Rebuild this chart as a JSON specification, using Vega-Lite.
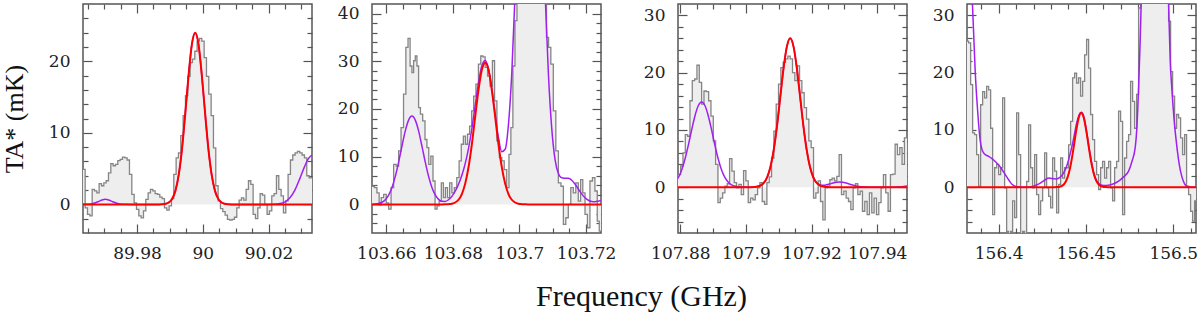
{
"$schema": "https://vega.github.io/schema/vega-lite/v6.json",
"padding": {"left": 0, "right": 2, "top": 2, "bottom": 2},
"spacing": 25,
"title": {"text": "Frequency (GHz)", "orient": "bottom", "anchor": "middle", "font": "Liberation Serif", "fontSize": 30, "fontWeight": "normal", "color": "#111", "offset": 20, "dx": 42},
"config": {
 "view": {"stroke": "#555", "strokeWidth": 1.5},
 "axis": {"domain": false, "grid": false, "tickColor": "#555", "tickWidth": 1.2, "labelFont": "DejaVu Serif", "labelFontSize": 17, "labelColor": "#222", "labelOverlap": false, "labelFlush": false, "titleFont": "Liberation Serif", "titleFontSize": 26, "titleFontWeight": "normal", "titleColor": "#111"}
},
"datasets": {
 "s1": [{"f":89.9630,"t":4.9},{"f":89.96390,"t":4.9},{"f":89.96461,"t":-0.5},{"f":89.96532,"t":-1.4},{"f":89.96603,"t":-1.6},{"f":89.96674,"t":2.1},{"f":89.96745,"t":1.9},{"f":89.96815,"t":1.6},{"f":89.96886,"t":2.9},{"f":89.96957,"t":2.6},{"f":89.97028,"t":3.0},{"f":89.97099,"t":3.3},{"f":89.97170,"t":4.4},{"f":89.97241,"t":5.7},{"f":89.97312,"t":5.4},{"f":89.97383,"t":5.6},{"f":89.97454,"t":6.1},{"f":89.97524,"t":6.3},{"f":89.97595,"t":6.6},{"f":89.97666,"t":6.5},{"f":89.97737,"t":6.2},{"f":89.97808,"t":4.2},{"f":89.97879,"t":1.4},{"f":89.97950,"t":0.2},{"f":89.98021,"t":-0.7},{"f":89.98092,"t":-1.6},{"f":89.98163,"t":-1.9},{"f":89.98233,"t":-0.9},{"f":89.98304,"t":0.7},{"f":89.98375,"t":1.6},{"f":89.98446,"t":2.1},{"f":89.98517,"t":1.9},{"f":89.98588,"t":1.5},{"f":89.98659,"t":1.4},{"f":89.98730,"t":1.0},{"f":89.98801,"t":0.8},{"f":89.98872,"t":-0.5},{"f":89.98942,"t":-0.8},{"f":89.99013,"t":-0.2},{"f":89.99084,"t":0.8},{"f":89.99155,"t":4.2},{"f":89.99226,"t":6.5},{"f":89.99297,"t":7.2},{"f":89.99368,"t":9.6},{"f":89.99439,"t":12.4},{"f":89.99510,"t":15.2},{"f":89.99581,"t":17.9},{"f":89.99651,"t":19.8},{"f":89.99722,"t":20.3},{"f":89.99793,"t":21.4},{"f":89.99864,"t":22.8},{"f":89.99935,"t":23.2},{"f":90.00006,"t":22.8},{"f":90.00077,"t":20.5},{"f":90.00148,"t":17.9},{"f":90.00219,"t":15.4},{"f":90.00290,"t":12.4},{"f":90.00360,"t":7.9},{"f":90.00431,"t":2.6},{"f":90.00502,"t":0.5},{"f":90.00573,"t":-0.6},{"f":90.00644,"t":-1.0},{"f":90.00715,"t":-1.5},{"f":90.00786,"t":-2.1},{"f":90.00857,"t":-2.2},{"f":90.00928,"t":-2.1},{"f":90.00999,"t":-1.8},{"f":90.01069,"t":-0.5},{"f":90.01140,"t":0.6},{"f":90.01211,"t":0.9},{"f":90.01282,"t":0.6},{"f":90.01353,"t":2.1},{"f":90.01424,"t":3.3},{"f":90.01495,"t":2.8},{"f":90.01566,"t":-1.4},{"f":90.01637,"t":-2.0},{"f":90.01708,"t":-0.5},{"f":90.01778,"t":1.5},{"f":90.01849,"t":1.3},{"f":90.01920,"t":0.0},{"f":90.01991,"t":-1.4},{"f":90.02062,"t":-0.9},{"f":90.02133,"t":1.2},{"f":90.02204,"t":1.5},{"f":90.02275,"t":4.0},{"f":90.02346,"t":2.1},{"f":90.02417,"t":1.2},{"f":90.02487,"t":-1.2},{"f":90.02558,"t":0.5},{"f":90.02629,"t":4.2},{"f":90.02700,"t":6.2},{"f":90.02771,"t":6.9},{"f":90.02842,"t":7.2},{"f":90.02913,"t":7.4},{"f":90.02984,"t":7.2},{"f":90.03055,"t":6.9},{"f":90.03126,"t":6.5},{"f":90.03196,"t":4.0},{"f":90.03267,"t":3.7},{"f":90.0340,"t":3.7}],
 "r1": [{"f":89.9630,"t":0},{"f":89.9857,"t":0},{"f":89.9867,"t":0.0},{"f":89.9877,"t":0.02},{"f":89.9887,"t":0.08},{"f":89.9897,"t":0.27},{"f":89.9907,"t":0.77},{"f":89.9917,"t":1.92},{"f":89.9927,"t":4.16},{"f":89.9937,"t":7.8},{"f":89.9947,"t":12.8},{"f":89.9957,"t":18.1},{"f":89.9967,"t":22.4},{"f":89.9977,"t":24.0},{"f":89.9987,"t":22.4},{"f":89.9997,"t":18.1},{"f":90.0007,"t":12.8},{"f":90.0017,"t":7.8},{"f":90.0027,"t":4.16},{"f":90.0037,"t":1.92},{"f":90.0047,"t":0.77},{"f":90.0057,"t":0.27},{"f":90.0067,"t":0.08},{"f":90.0077,"t":0.02},{"f":90.0087,"t":0.0},{"f":90.0340,"t":0}],
 "p1": [{"f":89.9630,"t":0},{"f":89.9644,"t":0.01},{"f":89.9654,"t":0.03},{"f":89.9664,"t":0.09},{"f":89.9674,"t":0.23},{"f":89.9684,"t":0.42},{"f":89.9694,"t":0.62},{"f":89.9704,"t":0.7},{"f":89.9714,"t":0.62},{"f":89.9724,"t":0.42},{"f":89.9734,"t":0.23},{"f":89.9744,"t":0.09},{"f":89.9754,"t":0.03},{"f":89.9764,"t":0.01},{"f":89.9784,"t":0},{"f":89.9867,"t":0.0},{"f":89.9877,"t":0.02},{"f":89.9887,"t":0.08},{"f":89.9897,"t":0.27},{"f":89.9907,"t":0.77},{"f":89.9917,"t":1.92},{"f":89.9927,"t":4.16},{"f":89.9937,"t":7.8},{"f":89.9947,"t":12.8},{"f":89.9957,"t":18.1},{"f":89.9967,"t":22.4},{"f":89.9977,"t":24.0},{"f":89.9987,"t":22.4},{"f":89.9997,"t":18.1},{"f":90.0007,"t":12.8},{"f":90.0017,"t":7.8},{"f":90.0027,"t":4.16},{"f":90.0037,"t":1.92},{"f":90.0047,"t":0.77},{"f":90.0057,"t":0.27},{"f":90.0067,"t":0.08},{"f":90.0077,"t":0.02},{"f":90.0087,"t":0.0},{"f":90.0150,"t":0},{"f":90.0195,"t":0},{"f":90.0215,"t":0.02},{"f":90.0235,"t":0.12},{"f":90.0250,"t":0.36},{"f":90.0265,"t":0.93},{"f":90.0280,"t":2.0},{"f":90.0295,"t":3.6},{"f":90.0310,"t":5.35},{"f":90.0322,"t":6.44},{"f":90.0332,"t":6.87},{"f":90.0340,"t":6.9}],
 "s2": [{"f":103.6550,"t":3.8},{"f":103.65605,"t":3.8},{"f":103.6568,"t":3.5},{"f":103.65755,"t":2.4},{"f":103.65815,"t":-0.1},{"f":103.6588,"t":1.4},{"f":103.6596,"t":2.1},{"f":103.66035,"t":0.3},{"f":103.66105,"t":-1.0},{"f":103.6618,"t":3.5},{"f":103.6626,"t":8.4},{"f":103.66335,"t":8.0},{"f":103.66405,"t":11.2},{"f":103.6648,"t":16.1},{"f":103.66555,"t":23.1},{"f":103.6662,"t":32.9},{"f":103.66685,"t":34.8},{"f":103.66745,"t":29.0},{"f":103.66795,"t":27.6},{"f":103.66845,"t":30.1},{"f":103.66895,"t":31.1},{"f":103.66945,"t":29.0},{"f":103.66995,"t":20.3},{"f":103.67055,"t":18.9},{"f":103.6713,"t":17.5},{"f":103.67195,"t":13.6},{"f":103.67245,"t":11.9},{"f":103.67305,"t":8.4},{"f":103.6737,"t":10.1},{"f":103.67435,"t":4.9},{"f":103.67495,"t":-1.0},{"f":103.67555,"t":-0.3},{"f":103.6762,"t":0.7},{"f":103.67685,"t":4.5},{"f":103.67745,"t":1.4},{"f":103.67805,"t":3.5},{"f":103.6787,"t":1.4},{"f":103.67935,"t":4.5},{"f":103.68005,"t":2.4},{"f":103.6808,"t":3.5},{"f":103.68155,"t":5.6},{"f":103.6822,"t":9.1},{"f":103.68285,"t":12.6},{"f":103.68345,"t":14.3},{"f":103.68405,"t":12.6},{"f":103.6847,"t":14.7},{"f":103.68535,"t":16.4},{"f":103.68595,"t":19.6},{"f":103.68655,"t":22.7},{"f":103.6873,"t":25.2},{"f":103.68805,"t":29.4},{"f":103.6887,"t":31.1},{"f":103.68935,"t":30.9},{"f":103.69005,"t":28.7},{"f":103.6908,"t":26.9},{"f":103.69155,"t":24.8},{"f":103.6922,"t":30.1},{"f":103.69285,"t":21.7},{"f":103.6936,"t":13.3},{"f":103.69435,"t":9.8},{"f":103.69505,"t":9.1},{"f":103.6958,"t":7.3},{"f":103.69655,"t":3.5},{"f":103.69715,"t":10.5},{"f":103.6977,"t":16.1},{"f":103.69835,"t":29.0},{"f":103.69895,"t":38.5},{"f":103.69955,"t":48},{"f":103.7003,"t":55},{"f":103.70105,"t":62},{"f":103.7018,"t":66},{"f":103.70255,"t":70},{"f":103.7033,"t":72},{"f":103.70405,"t":70},{"f":103.7048,"t":66},{"f":103.70555,"t":60},{"f":103.7063,"t":54},{"f":103.70705,"t":48},{"f":103.7078,"t":43},{"f":103.70845,"t":35.0},{"f":103.70905,"t":32.9},{"f":103.7098,"t":29.4},{"f":103.71055,"t":19.6},{"f":103.7113,"t":11.2},{"f":103.7121,"t":4.5},{"f":103.71285,"t":3.8},{"f":103.71355,"t":-4.2},{"f":103.7143,"t":-2.8},{"f":103.71505,"t":0.0},{"f":103.7158,"t":3.5},{"f":103.71655,"t":2.4},{"f":103.7173,"t":4.5},{"f":103.71805,"t":0.7},{"f":103.7187,"t":5.2},{"f":103.71935,"t":2.4},{"f":103.72005,"t":-2.1},{"f":103.7208,"t":-4.9},{"f":103.72155,"t":4.9},{"f":103.7223,"t":5.6},{"f":103.72305,"t":2.8},{"f":103.7237,"t":-3.5},{"f":103.72425,"t":-5.6},{"f":103.7250,"t":-5.6}],
 "r2": [{"f":103.6550,"t":0},{"f":103.6767,"t":0},{"f":103.6777,"t":0.01},{"f":103.6787,"t":0.05},{"f":103.6797,"t":0.14},{"f":103.6807,"t":0.39},{"f":103.6817,"t":0.97},{"f":103.6827,"t":2.17},{"f":103.6837,"t":4.35},{"f":103.6847,"t":7.8},{"f":103.6857,"t":12.6},{"f":103.6867,"t":18.4},{"f":103.6877,"t":24.0},{"f":103.6887,"t":28.2},{"f":103.6897,"t":29.7},{"f":103.6907,"t":28.2},{"f":103.6917,"t":24.0},{"f":103.6927,"t":18.4},{"f":103.6937,"t":12.6},{"f":103.6947,"t":7.8},{"f":103.6957,"t":4.35},{"f":103.6967,"t":2.17},{"f":103.6977,"t":0.97},{"f":103.6987,"t":0.39},{"f":103.6997,"t":0.14},{"f":103.7007,"t":0.05},{"f":103.7017,"t":0.01},{"f":103.7027,"t":0},{"f":103.7250,"t":0}],
 "p2": [{"f":103.6550,"t":0.01},{"f":103.6557,"t":0.02},{"f":103.6567,"t":0.07},{"f":103.6577,"t":0.19},{"f":103.6587,"t":0.45},{"f":103.6597,"t":0.98},{"f":103.6607,"t":1.95},{"f":103.6617,"t":3.54},{"f":103.6627,"t":5.87},{"f":103.6637,"t":8.87},{"f":103.6647,"t":12.2},{"f":103.6657,"t":15.4},{"f":103.6667,"t":17.67},{"f":103.6677,"t":18.5},{"f":103.6687,"t":17.67},{"f":103.6697,"t":15.4},{"f":103.6707,"t":12.2},{"f":103.6717,"t":8.87},{"f":103.6727,"t":5.87},{"f":103.6737,"t":3.54},{"f":103.6747,"t":1.97},{"f":103.6757,"t":1.05},{"f":103.6767,"t":0.63},{"f":103.6777,"t":0.62},{"f":103.6787,"t":0.97},{"f":103.6797,"t":1.67},{"f":103.6807,"t":2.76},{"f":103.6817,"t":4.22},{"f":103.6827,"t":6.11},{"f":103.6837,"t":8.55},{"f":103.6847,"t":11.74},{"f":103.6857,"t":15.85},{"f":103.6867,"t":20.77},{"f":103.6877,"t":25.51},{"f":103.6887,"t":29.05},{"f":103.6897,"t":30.14},{"f":103.6907,"t":28.43},{"f":103.6917,"t":24.23},{"f":103.6927,"t":18.9},{"f":103.6937,"t":13.92},{"f":103.6947,"t":11.05},{"f":103.6957,"t":11.55},{"f":103.6967,"t":16.77},{"f":103.6977,"t":27.57},{"f":103.6987,"t":44.3},{"f":103.6997,"t":65.6},{"f":103.7007,"t":88.5},{"f":103.7017,"t":108},{"f":103.7027,"t":119.5},{"f":103.7037,"t":119.5},{"f":103.7047,"t":108},{"f":103.7057,"t":88.5},{"f":103.7067,"t":65.65},{"f":103.7077,"t":44.25},{"f":103.7087,"t":27.32},{"f":103.7097,"t":15.92},{"f":103.7107,"t":9.38},{"f":103.7117,"t":6.46},{"f":103.7127,"t":5.56},{"f":103.7137,"t":5.49},{"f":103.7147,"t":5.46},{"f":103.7157,"t":5.06},{"f":103.7167,"t":4.24},{"f":103.7177,"t":3.22},{"f":103.7187,"t":2.21},{"f":103.7197,"t":1.39},{"f":103.7207,"t":0.86},{"f":103.7217,"t":0.6},{"f":103.7227,"t":0.56},{"f":103.7237,"t":0.67},{"f":103.7247,"t":0.82},{"f":103.7250,"t":0.85}],
 "s3": [{"f":107.8790,"t":2.2},{"f":107.87975,"t":2.2},{"f":107.88046,"t":3.7},{"f":107.88117,"t":6.0},{"f":107.88188,"t":9.2},{"f":107.88259,"t":8.9},{"f":107.88330,"t":15.1},{"f":107.88401,"t":18.6},{"f":107.88472,"t":18.9},{"f":107.88543,"t":21.3},{"f":107.88614,"t":18.3},{"f":107.88686,"t":14.5},{"f":107.88757,"t":16.8},{"f":107.88828,"t":16.7},{"f":107.88899,"t":15.1},{"f":107.88970,"t":12.4},{"f":107.89041,"t":8.1},{"f":107.89112,"t":4.0},{"f":107.89183,"t":-2.7},{"f":107.89254,"t":-1.9},{"f":107.89325,"t":-1.0},{"f":107.89396,"t":0.2},{"f":107.89467,"t":0.6},{"f":107.89538,"t":5.0},{"f":107.89609,"t":2.8},{"f":107.89680,"t":0.8},{"f":107.89751,"t":-0.1},{"f":107.89822,"t":0.5},{"f":107.89893,"t":-1.3},{"f":107.89964,"t":2.9},{"f":107.90035,"t":1.1},{"f":107.90107,"t":-2.7},{"f":107.90178,"t":-1.9},{"f":107.90249,"t":-2.2},{"f":107.90320,"t":-1.3},{"f":107.90391,"t":-0.1},{"f":107.90462,"t":0.8},{"f":107.90533,"t":-2.5},{"f":107.90604,"t":-3.0},{"f":107.90675,"t":0.8},{"f":107.90746,"t":1.8},{"f":107.90817,"t":5.1},{"f":107.90888,"t":9.8},{"f":107.90959,"t":14.5},{"f":107.91030,"t":18.0},{"f":107.91101,"t":20.9},{"f":107.91172,"t":21.8},{"f":107.91243,"t":22.4},{"f":107.91314,"t":22.9},{"f":107.91385,"t":22.4},{"f":107.91456,"t":20.0},{"f":107.91528,"t":18.6},{"f":107.91599,"t":21.2},{"f":107.91670,"t":18.6},{"f":107.91741,"t":16.5},{"f":107.91812,"t":13.9},{"f":107.91883,"t":11.9},{"f":107.91954,"t":8.1},{"f":107.92025,"t":6.9},{"f":107.92096,"t":-1.9},{"f":107.92167,"t":-1.0},{"f":107.92238,"t":1.1},{"f":107.92309,"t":-2.5},{"f":107.92380,"t":-5.7},{"f":107.92451,"t":-0.1},{"f":107.92522,"t":0.2},{"f":107.92593,"t":1.3},{"f":107.92664,"t":1.6},{"f":107.92735,"t":1.1},{"f":107.92806,"t":1.9},{"f":107.92877,"t":5.7},{"f":107.92949,"t":-1.3},{"f":107.93020,"t":-0.7},{"f":107.93091,"t":-1.9},{"f":107.93162,"t":-2.5},{"f":107.93233,"t":-3.9},{"f":107.93304,"t":-0.1},{"f":107.93375,"t":0.6},{"f":107.93446,"t":-1.3},{"f":107.93517,"t":-0.7},{"f":107.93588,"t":-4.2},{"f":107.93659,"t":-2.5},{"f":107.93730,"t":-4.8},{"f":107.93801,"t":-1.0},{"f":107.93872,"t":-4.5},{"f":107.93943,"t":-1.9},{"f":107.94014,"t":-4.8},{"f":107.94085,"t":-2.7},{"f":107.94156,"t":-0.1},{"f":107.94227,"t":2.2},{"f":107.94298,"t":-1.0},{"f":107.94370,"t":-4.2},{"f":107.94441,"t":2.2},{"f":107.94512,"t":2.3},{"f":107.94583,"t":7.5},{"f":107.94654,"t":5.7},{"f":107.94725,"t":6.9},{"f":107.94796,"t":4.0},{"f":107.94867,"t":8.6},{"f":107.9495,"t":8.6}],
 "r3": [{"f":107.8790,"t":0},{"f":107.9005,"t":0},{"f":107.9015,"t":0.01},{"f":107.9025,"t":0.04},{"f":107.9035,"t":0.11},{"f":107.9045,"t":0.31},{"f":107.9055,"t":0.78},{"f":107.9065,"t":1.77},{"f":107.9075,"t":3.6},{"f":107.9085,"t":6.6},{"f":107.9095,"t":10.8},{"f":107.9105,"t":15.9},{"f":107.9115,"t":20.9},{"f":107.9125,"t":24.6},{"f":107.9135,"t":26.0},{"f":107.9145,"t":24.6},{"f":107.9155,"t":20.9},{"f":107.9165,"t":15.9},{"f":107.9175,"t":10.8},{"f":107.9185,"t":6.6},{"f":107.9195,"t":3.6},{"f":107.9205,"t":1.77},{"f":107.9215,"t":0.78},{"f":107.9225,"t":0.31},{"f":107.9235,"t":0.11},{"f":107.9245,"t":0.04},{"f":107.9255,"t":0.01},{"f":107.9265,"t":0},{"f":107.9495,"t":0}],
 "p3": [{"f":107.8790,"t":1.31},{"f":107.8795,"t":1.79},{"f":107.8805,"t":3.14},{"f":107.8815,"t":5.05},{"f":107.8825,"t":7.46},{"f":107.8835,"t":10.1},{"f":107.8845,"t":12.53},{"f":107.8855,"t":14.27},{"f":107.8865,"t":14.9},{"f":107.8875,"t":14.27},{"f":107.8885,"t":12.53},{"f":107.8895,"t":10.1},{"f":107.8905,"t":7.46},{"f":107.8915,"t":5.05},{"f":107.8925,"t":3.14},{"f":107.8935,"t":1.79},{"f":107.8945,"t":0.94},{"f":107.8955,"t":0.45},{"f":107.8965,"t":0.2},{"f":107.8975,"t":0.08},{"f":107.8985,"t":0.03},{"f":107.8995,"t":0},{"f":107.9005,"t":0},{"f":107.9015,"t":0.01},{"f":107.9025,"t":0.04},{"f":107.9035,"t":0.11},{"f":107.9045,"t":0.31},{"f":107.9055,"t":0.78},{"f":107.9065,"t":1.77},{"f":107.9075,"t":3.6},{"f":107.9085,"t":6.6},{"f":107.9095,"t":10.8},{"f":107.9105,"t":15.9},{"f":107.9115,"t":20.9},{"f":107.9125,"t":24.6},{"f":107.9135,"t":26.0},{"f":107.9145,"t":24.6},{"f":107.9155,"t":20.9},{"f":107.9165,"t":15.9},{"f":107.9175,"t":10.8},{"f":107.9185,"t":6.6},{"f":107.9195,"t":3.61},{"f":107.9205,"t":1.8},{"f":107.9215,"t":0.84},{"f":107.9225,"t":0.43},{"f":107.9235,"t":0.33},{"f":107.9245,"t":0.41},{"f":107.9255,"t":0.56},{"f":107.9265,"t":0.72},{"f":107.9275,"t":0.85},{"f":107.9285,"t":0.9},{"f":107.9295,"t":0.85},{"f":107.9305,"t":0.72},{"f":107.9315,"t":0.55},{"f":107.9325,"t":0.37},{"f":107.9335,"t":0.22},{"f":107.9345,"t":0.12},{"f":107.9355,"t":0.06},{"f":107.9365,"t":0.03},{"f":107.9375,"t":0},{"f":107.9455,"t":0},{"f":107.9465,"t":0.03},{"f":107.9475,"t":0.07},{"f":107.9485,"t":0.16},{"f":107.9495,"t":0.34}],
 "s4": [{"f":156.3815,"t":25.5},{"f":156.38226,"t":25.5},{"f":156.38340,"t":25.2},{"f":156.38455,"t":17.9},{"f":156.38569,"t":9.5},{"f":156.38684,"t":9.2},{"f":156.38798,"t":5.7},{"f":156.38913,"t":0.2},{"f":156.39027,"t":14.4},{"f":156.39142,"t":16.7},{"f":156.39256,"t":15.6},{"f":156.39371,"t":17.6},{"f":156.39485,"t":17.0},{"f":156.39600,"t":10.3},{"f":156.39714,"t":-4.8},{"f":156.39829,"t":3.4},{"f":156.39943,"t":4.0},{"f":156.40058,"t":2.2},{"f":156.40172,"t":3.4},{"f":156.40287,"t":15.6},{"f":156.40401,"t":-0.1},{"f":156.40516,"t":-7.7},{"f":156.40630,"t":-9.4},{"f":156.40745,"t":-7.7},{"f":156.40859,"t":-2.4},{"f":156.40974,"t":-5.3},{"f":156.41088,"t":13.0},{"f":156.41202,"t":5.7},{"f":156.41317,"t":-9.4},{"f":156.41431,"t":-7.7},{"f":156.41546,"t":-8.8},{"f":156.41660,"t":1.0},{"f":156.41775,"t":10.9},{"f":156.41889,"t":3.4},{"f":156.42004,"t":-0.1},{"f":156.42118,"t":5.7},{"f":156.42233,"t":-1.3},{"f":156.42347,"t":-4.8},{"f":156.42462,"t":-2.4},{"f":156.42576,"t":-0.1},{"f":156.42691,"t":6.0},{"f":156.42805,"t":-0.1},{"f":156.42920,"t":-1.6},{"f":156.43034,"t":-3.6},{"f":156.43149,"t":5.1},{"f":156.43263,"t":2.8},{"f":156.43378,"t":-4.5},{"f":156.43492,"t":0.5},{"f":156.43607,"t":5.1},{"f":156.43721,"t":1.6},{"f":156.43836,"t":3.4},{"f":156.43950,"t":3.4},{"f":156.44064,"t":7.4},{"f":156.44179,"t":11.5},{"f":156.44293,"t":19.1},{"f":156.44408,"t":19.9},{"f":156.44522,"t":18.2},{"f":156.44637,"t":19.1},{"f":156.44751,"t":15.9},{"f":156.44866,"t":18.5},{"f":156.44980,"t":23.1},{"f":156.45095,"t":25.8},{"f":156.45209,"t":20.8},{"f":156.45324,"t":12.7},{"f":156.45438,"t":8.3},{"f":156.45553,"t":4.5},{"f":156.45667,"t":2.2},{"f":156.45782,"t":-0.4},{"f":156.45896,"t":3.4},{"f":156.46011,"t":4.5},{"f":156.46125,"t":1.6},{"f":156.46240,"t":3.4},{"f":156.46354,"t":4.5},{"f":156.46469,"t":-0.1},{"f":156.46583,"t":-2.4},{"f":156.46698,"t":3.4},{"f":156.46812,"t":4.5},{"f":156.46926,"t":13.3},{"f":156.47041,"t":11.5},{"f":156.47155,"t":-4.8},{"f":156.47270,"t":5.1},{"f":156.47384,"t":8.0},{"f":156.47499,"t":9.2},{"f":156.47613,"t":18.5},{"f":156.47728,"t":15.0},{"f":156.47842,"t":10.3},{"f":156.47957,"t":16.2},{"f":156.48071,"t":31.3},{"f":156.48186,"t":40},{"f":156.48300,"t":55},{"f":156.48415,"t":65},{"f":156.48529,"t":75},{"f":156.48644,"t":80},{"f":156.48758,"t":85},{"f":156.48873,"t":88},{"f":156.48987,"t":88},{"f":156.49102,"t":85},{"f":156.49216,"t":80},{"f":156.49331,"t":70},{"f":156.49445,"t":60},{"f":156.49560,"t":50},{"f":156.49674,"t":40},{"f":156.49788,"t":29},{"f":156.49903,"t":20.2},{"f":156.50017,"t":15.9},{"f":156.50132,"t":10.3},{"f":156.50246,"t":12.7},{"f":156.50361,"t":12.1},{"f":156.50475,"t":8.6},{"f":156.50590,"t":5.7},{"f":156.50704,"t":9.2},{"f":156.50819,"t":0.2},{"f":156.50933,"t":-1.3},{"f":156.51048,"t":-4.2},{"f":156.51162,"t":-5.9},{"f":156.51277,"t":-2.4},{"f":156.5135,"t":-2.4}],
 "r4": [{"f":156.3815,"t":0},{"f":156.4323,"t":0},{"f":156.4333,"t":0.02},{"f":156.4343,"t":0.05},{"f":156.4353,"t":0.11},{"f":156.4363,"t":0.24},{"f":156.4373,"t":0.48},{"f":156.4383,"t":0.89},{"f":156.4393,"t":1.57},{"f":156.4403,"t":2.57},{"f":156.4413,"t":3.95},{"f":156.4423,"t":5.69},{"f":156.4433,"t":7.66},{"f":156.4443,"t":9.66},{"f":156.4453,"t":11.39},{"f":156.4463,"t":12.57},{"f":156.4473,"t":13.0},{"f":156.4483,"t":12.57},{"f":156.4493,"t":11.39},{"f":156.4503,"t":9.66},{"f":156.4513,"t":7.66},{"f":156.4523,"t":5.69},{"f":156.4533,"t":3.95},{"f":156.4543,"t":2.57},{"f":156.4553,"t":1.57},{"f":156.4563,"t":0.89},{"f":156.4573,"t":0.48},{"f":156.4583,"t":0.24},{"f":156.4593,"t":0.11},{"f":156.4603,"t":0.05},{"f":156.4613,"t":0.02},{"f":156.4623,"t":0},{"f":156.5135,"t":0}],
 "p4": [{"f":156.38187,"t":65},{"f":156.38283,"t":52},{"f":156.38378,"t":42},{"f":156.38474,"t":34},{"f":156.38569,"t":27},{"f":156.38664,"t":20},{"f":156.38760,"t":15.0},{"f":156.38855,"t":11.0},{"f":156.38951,"t":8.0},{"f":156.39046,"t":6.6},{"f":156.39141,"t":6.0},{"f":156.39275,"t":5.6},{"f":156.39428,"t":5.4},{"f":156.39618,"t":5.0},{"f":156.39809,"t":4.5},{"f":156.40000,"t":3.9},{"f":156.40191,"t":3.1},{"f":156.40382,"t":2.2},{"f":156.40572,"t":1.3},{"f":156.40763,"t":0.5},{"f":156.41049,"t":0.06},{"f":156.41431,"t":0.0},{"f":156.41813,"t":0.05},{"f":156.42099,"t":0.3},{"f":156.42385,"t":0.7},{"f":156.42671,"t":1.3},{"f":156.42862,"t":1.6},{"f":156.43053,"t":1.5},{"f":156.43282,"t":1.45},{"f":156.43530,"t":1.75},{"f":156.43721,"t":2.5},{"f":156.43911,"t":3.8},{"f":156.44102,"t":5.9},{"f":156.44293,"t":8.5},{"f":156.44484,"t":11.4},{"f":156.44617,"t":12.7},{"f":156.44732,"t":13.1},{"f":156.44865,"t":12.5},{"f":156.45056,"t":9.3},{"f":156.45247,"t":5.6},{"f":156.45438,"t":2.6},{"f":156.45629,"t":1.0},{"f":156.45819,"t":0.45},{"f":156.46010,"t":0.3},{"f":156.46296,"t":0.35},{"f":156.46583,"t":0.6},{"f":156.46869,"t":1.05},{"f":156.47155,"t":1.8},{"f":156.47441,"t":2.8},{"f":156.47632,"t":4.5},{"f":156.47823,"t":7.0},{"f":156.47918,"t":10.5},{"f":156.48014,"t":17.5},{"f":156.48109,"t":26},{"f":156.48204,"t":37},{"f":156.48395,"t":62},{"f":156.48681,"t":110},{"f":156.48949,"t":125},{"f":156.49254,"t":100},{"f":156.49540,"t":55},{"f":156.49635,"t":43},{"f":156.49731,"t":32},{"f":156.49826,"t":22},{"f":156.49922,"t":17},{"f":156.50055,"t":11.5},{"f":156.50208,"t":7.0},{"f":156.50341,"t":4.0},{"f":156.50494,"t":1.8},{"f":156.50646,"t":0.6},{"f":156.50780,"t":0.15},{"f":156.51066,"t":0.0},{"f":156.51295,"t":0.0},{"f":156.5135,"t":0.0}]
},
"hconcat": [
 {"spacing": 22, "hconcat": [
 {"width": 229, "height": 229,
  "layer": [
   {"data": {"name": "s1"}, "mark": {"type": "area", "interpolate": "step", "color": "#eeeeee", "clip": true},
    "encoding": {"x": {"field": "f", "type": "quantitative", "scale": {"domain": [89.9636, 90.0332], "nice": false, "zero": false}, "axis": {"orient": "bottom", "values": [89.98, 90, 90.02], "format": ".6~g", "tickSize": -9, "labelPadding": 21, "title": null}},
     "y": {"field": "t", "type": "quantitative", "scale": {"domain": [-4, 28], "nice": false, "zero": false}, "axis": {"orient": "left", "values": [0, 10, 20], "format": ".6~g", "tickSize": -9, "labelPadding": 22, "title": "TA* (mK)", "titlePadding": 21}},
     "y2": {"datum": 0}}},
   {"data": {"name": "s1"}, "mark": {"type": "line", "interpolate": "step", "color": "#858585", "strokeWidth": 1.3, "clip": true},
    "encoding": {"x": {"field": "f", "type": "quantitative", "axis": {"orient": "top", "values": [89.98, 90, 90.02], "labels": false, "tickSize": -9, "title": null}},
     "y": {"field": "t", "type": "quantitative", "axis": {"orient": "right", "values": [0, 10, 20], "labels": false, "tickSize": -9, "title": null}}}},
   {"data": {"name": "p1"}, "mark": {"type": "line", "interpolate": "monotone", "color": "#a020f0", "strokeWidth": 1.5, "clip": true},
    "encoding": {"x": {"field": "f", "type": "quantitative", "axis": {"orient": "bottom", "values": [89.965, 89.97, 89.975, 89.985, 89.99, 89.995, 90.005, 90.01, 90.015, 90.025, 90.03], "labels": false, "tickSize": -5, "title": null}},
     "y": {"field": "t", "type": "quantitative", "axis": {"orient": "left", "values": [-2, 2, 4, 6, 8, 12, 14, 16, 18, 22, 24, 26], "labels": false, "tickSize": -5, "title": null}}}},
   {"data": {"name": "r1"}, "mark": {"type": "line", "interpolate": "monotone", "color": "#ff0000", "strokeWidth": 2, "clip": true},
    "encoding": {"x": {"field": "f", "type": "quantitative", "axis": {"orient": "top", "values": [89.965, 89.97, 89.975, 89.985, 89.99, 89.995, 90.005, 90.01, 90.015, 90.025, 90.03], "labels": false, "tickSize": -5, "title": null}},
     "y": {"field": "t", "type": "quantitative", "axis": {"orient": "right", "values": [-2, 2, 4, 6, 8, 12, 14, 16, 18, 22, 24, 26], "labels": false, "tickSize": -5, "title": null}}}}
  ],
  "resolve": {"axis": {"x": "independent", "y": "independent"}}},
 {"width": 229, "height": 229,
  "layer": [
   {"data": {"name": "s2"}, "mark": {"type": "area", "interpolate": "step", "color": "#eeeeee", "clip": true},
    "encoding": {"x": {"field": "f", "type": "quantitative", "scale": {"domain": [103.6557, 103.7245], "nice": false, "zero": false}, "axis": {"orient": "bottom", "values": [103.66, 103.68, 103.7, 103.72], "format": ".6~g", "tickSize": -9, "labelPadding": 21, "title": null}},
     "y": {"field": "t", "type": "quantitative", "scale": {"domain": [-6, 42], "nice": false, "zero": false}, "axis": {"orient": "left", "values": [0, 10, 20, 30, 40], "format": ".6~g", "tickSize": -9, "labelPadding": 22, "title": null}},
     "y2": {"datum": 0}}},
   {"data": {"name": "s2"}, "mark": {"type": "line", "interpolate": "step", "color": "#858585", "strokeWidth": 1.3, "clip": true},
    "encoding": {"x": {"field": "f", "type": "quantitative", "axis": {"orient": "top", "values": [103.66, 103.68, 103.7, 103.72], "labels": false, "tickSize": -9, "title": null}},
     "y": {"field": "t", "type": "quantitative", "axis": {"orient": "right", "values": [0, 10, 20, 30, 40], "labels": false, "tickSize": -9, "title": null}}}},
   {"data": {"name": "p2"}, "mark": {"type": "line", "interpolate": "monotone", "color": "#a020f0", "strokeWidth": 1.5, "clip": true},
    "encoding": {"x": {"field": "f", "type": "quantitative", "axis": {"orient": "bottom", "values": [103.665, 103.67, 103.675, 103.685, 103.69, 103.695, 103.705, 103.71, 103.715], "labels": false, "tickSize": -5, "title": null}},
     "y": {"field": "t", "type": "quantitative", "axis": {"orient": "left", "values": [-4, -2, 2, 4, 6, 8, 12, 14, 16, 18, 22, 24, 26, 28, 32, 34, 36, 38], "labels": false, "tickSize": -5, "title": null}}}},
   {"data": {"name": "r2"}, "mark": {"type": "line", "interpolate": "monotone", "color": "#ff0000", "strokeWidth": 2, "clip": true},
    "encoding": {"x": {"field": "f", "type": "quantitative", "axis": {"orient": "top", "values": [103.665, 103.67, 103.675, 103.685, 103.69, 103.695, 103.705, 103.71, 103.715], "labels": false, "tickSize": -5, "title": null}},
     "y": {"field": "t", "type": "quantitative", "axis": {"orient": "right", "values": [-4, -2, 2, 4, 6, 8, 12, 14, 16, 18, 22, 24, 26, 28, 32, 34, 36, 38], "labels": false, "tickSize": -5, "title": null}}}}
  ],
  "resolve": {"axis": {"x": "independent", "y": "independent"}}}
 ]},
 {"spacing": 22, "hconcat": [
 {"width": 229, "height": 229,
  "layer": [
   {"data": {"name": "s3"}, "mark": {"type": "area", "interpolate": "step", "color": "#eeeeee", "clip": true},
    "encoding": {"x": {"field": "f", "type": "quantitative", "scale": {"domain": [107.8793, 107.9491], "nice": false, "zero": false}, "axis": {"orient": "bottom", "values": [107.88, 107.9, 107.92, 107.94], "format": ".6~g", "tickSize": -9, "labelPadding": 21, "title": null}},
     "y": {"field": "t", "type": "quantitative", "scale": {"domain": [-8, 32], "nice": false, "zero": false}, "axis": {"orient": "left", "values": [0, 10, 20, 30], "format": ".6~g", "tickSize": -9, "labelPadding": 22, "title": null}},
     "y2": {"datum": 0}}},
   {"data": {"name": "s3"}, "mark": {"type": "line", "interpolate": "step", "color": "#858585", "strokeWidth": 1.3, "clip": true},
    "encoding": {"x": {"field": "f", "type": "quantitative", "axis": {"orient": "top", "values": [107.88, 107.9, 107.92, 107.94], "labels": false, "tickSize": -9, "title": null}},
     "y": {"field": "t", "type": "quantitative", "axis": {"orient": "right", "values": [0, 10, 20, 30], "labels": false, "tickSize": -9, "title": null}}}},
   {"data": {"name": "p3"}, "mark": {"type": "line", "interpolate": "monotone", "color": "#a020f0", "strokeWidth": 1.5, "clip": true},
    "encoding": {"x": {"field": "f", "type": "quantitative", "axis": {"orient": "bottom", "values": [107.885, 107.89, 107.895, 107.905, 107.91, 107.915, 107.925, 107.93, 107.935, 107.945], "labels": false, "tickSize": -5, "title": null}},
     "y": {"field": "t", "type": "quantitative", "axis": {"orient": "left", "values": [-6, -4, -2, 2, 4, 6, 8, 12, 14, 16, 18, 22, 24, 26, 28], "labels": false, "tickSize": -5, "title": null}}}},
   {"data": {"name": "r3"}, "mark": {"type": "line", "interpolate": "monotone", "color": "#ff0000", "strokeWidth": 2, "clip": true},
    "encoding": {"x": {"field": "f", "type": "quantitative", "axis": {"orient": "top", "values": [107.885, 107.89, 107.895, 107.905, 107.91, 107.915, 107.925, 107.93, 107.935, 107.945], "labels": false, "tickSize": -5, "title": null}},
     "y": {"field": "t", "type": "quantitative", "axis": {"orient": "right", "values": [-6, -4, -2, 2, 4, 6, 8, 12, 14, 16, 18, 22, 24, 26, 28], "labels": false, "tickSize": -5, "title": null}}}}
  ],
  "resolve": {"axis": {"x": "independent", "y": "independent"}}},
 {"width": 229, "height": 229,
  "layer": [
   {"data": {"name": "s4"}, "mark": {"type": "area", "interpolate": "step", "color": "#eeeeee", "clip": true},
    "encoding": {"x": {"field": "f", "type": "quantitative", "scale": {"domain": [156.3819, 156.513], "nice": false, "zero": false}, "axis": {"orient": "bottom", "values": [156.4, 156.45, 156.5], "format": ".6~g", "tickSize": -9, "labelPadding": 21, "title": null}},
     "y": {"field": "t", "type": "quantitative", "scale": {"domain": [-8, 32], "nice": false, "zero": false}, "axis": {"orient": "left", "values": [0, 10, 20, 30], "format": ".6~g", "tickSize": -9, "labelPadding": 22, "title": null}},
     "y2": {"datum": 0}}},
   {"data": {"name": "s4"}, "mark": {"type": "line", "interpolate": "step", "color": "#858585", "strokeWidth": 1.3, "clip": true},
    "encoding": {"x": {"field": "f", "type": "quantitative", "axis": {"orient": "top", "values": [156.4, 156.45, 156.5], "labels": false, "tickSize": -9, "title": null}},
     "y": {"field": "t", "type": "quantitative", "axis": {"orient": "right", "values": [0, 10, 20, 30], "labels": false, "tickSize": -9, "title": null}}}},
   {"data": {"name": "p4"}, "mark": {"type": "line", "interpolate": "monotone", "color": "#a020f0", "strokeWidth": 1.5, "clip": true},
    "encoding": {"x": {"field": "f", "type": "quantitative", "axis": {"orient": "bottom", "values": [156.39, 156.41, 156.42, 156.43, 156.44, 156.46, 156.47, 156.48, 156.49, 156.51], "labels": false, "tickSize": -5, "title": null}},
     "y": {"field": "t", "type": "quantitative", "axis": {"orient": "left", "values": [-6, -4, -2, 2, 4, 6, 8, 12, 14, 16, 18, 22, 24, 26, 28], "labels": false, "tickSize": -5, "title": null}}}},
   {"data": {"name": "r4"}, "mark": {"type": "line", "interpolate": "monotone", "color": "#ff0000", "strokeWidth": 2, "clip": true},
    "encoding": {"x": {"field": "f", "type": "quantitative", "axis": {"orient": "top", "values": [156.39, 156.41, 156.42, 156.43, 156.44, 156.46, 156.47, 156.48, 156.49, 156.51], "labels": false, "tickSize": -5, "title": null}},
     "y": {"field": "t", "type": "quantitative", "axis": {"orient": "right", "values": [-6, -4, -2, 2, 4, 6, 8, 12, 14, 16, 18, 22, 24, 26, 28], "labels": false, "tickSize": -5, "title": null}}}}
  ],
  "resolve": {"axis": {"x": "independent", "y": "independent"}}}
 ]}
]
}
